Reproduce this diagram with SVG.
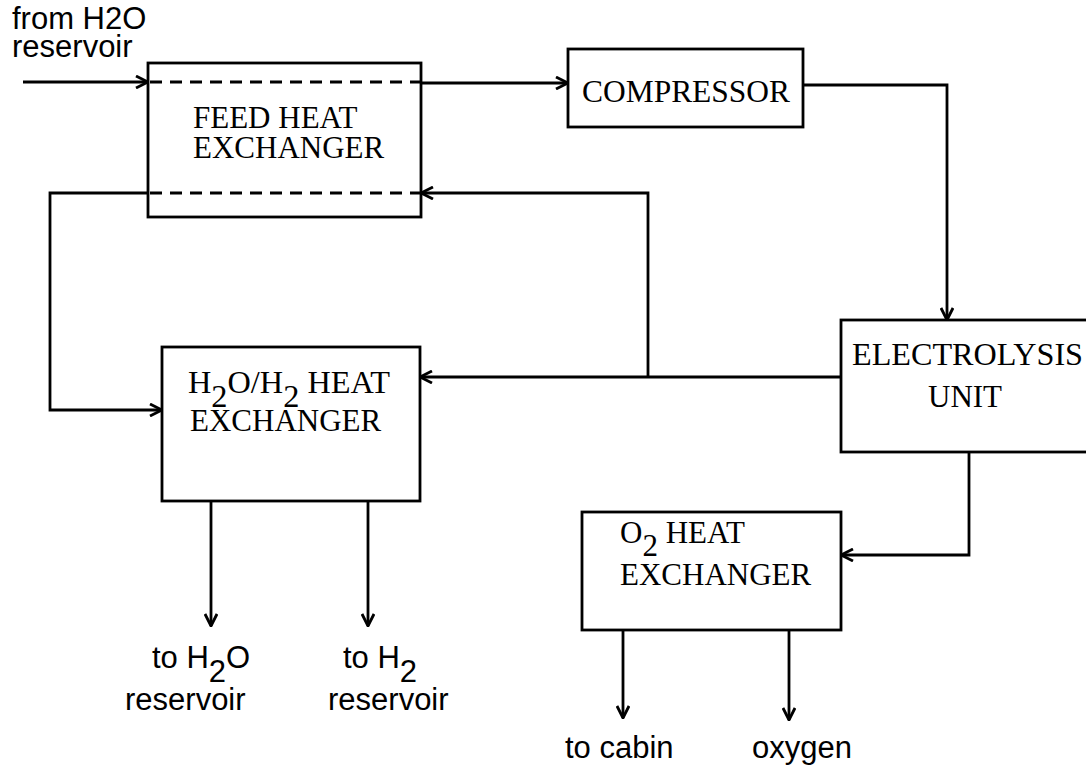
<svg xmlns="http://www.w3.org/2000/svg" width="1086" height="770" viewBox="0 0 1086 770">
<style>
.box{fill:#fff;stroke:#000;stroke-width:2.8}
.ln{fill:none;stroke:#000;stroke-width:2.8}
.dash{fill:none;stroke:#000;stroke-width:2.8;stroke-dasharray:12 8}
.arr{marker-end:url(#ah)}
.serif{font-family:"Liberation Serif","Times New Roman",serif;font-size:31px;fill:#000}
.sans{font-family:"Liberation Sans",Arial,sans-serif;font-size:31px;fill:#000}
</style>
<defs>
<marker id="ah" viewBox="0 0 14 14" refX="13" refY="7" markerWidth="14" markerHeight="14" markerUnits="userSpaceOnUse" orient="auto">
<path d="M1,1 L13,7 L1,13" fill="none" stroke="#000" stroke-width="2.8"/>
</marker>
</defs>
<rect width="1086" height="770" fill="#fff"/>

<g id="connectors">
<path class="ln arr" d="M23,82 H148"/>
<path class="ln arr" d="M421,83 H568"/>
<path class="ln arr" d="M803,85 H947 V320"/>
<path class="ln arr" d="M841,377 H420"/>
<path class="ln arr" d="M648,377 V193 H421"/>
<path class="ln arr" d="M148,193 H50 V410 H162"/>
<path class="ln arr" d="M969,452 V555 H841"/>
<path class="ln arr" d="M211,501 V626"/>
<path class="ln arr" d="M368,501 V626"/>
<path class="ln arr" d="M623,630 V718"/>
<path class="ln arr" d="M789,630 V720"/>
</g>

<g id="feed-hx">
<rect class="box" x="148" y="63" width="273" height="154"/>
<path class="dash" d="M150,82 H421"/>
<path class="dash" d="M150,193 H421"/>
<text class="serif" x="193" y="128">FEED HEAT</text>
<text class="serif" x="193" y="158">EXCHANGER</text>
</g>

<g id="compressor">
<rect class="box" x="568" y="49" width="235" height="78"/>
<text class="serif" x="582" y="102" textLength="208" lengthAdjust="spacingAndGlyphs">COMPRESSOR</text>
</g>

<g id="h2o-h2-hx">
<rect class="box" x="162" y="347" width="258" height="154"/>
<text class="serif" x="188" y="393" textLength="202" lengthAdjust="spacingAndGlyphs">H<tspan dy="14">2</tspan><tspan dy="-14">O/H</tspan><tspan dy="14">2</tspan><tspan dy="-14"> HEAT</tspan></text>
<text class="serif" x="190" y="431">EXCHANGER</text>
</g>

<g id="electrolysis">
<rect class="box" x="841" y="320" width="260" height="132"/>
<text class="serif" x="852" y="365" textLength="231" lengthAdjust="spacingAndGlyphs">ELECTROLYSIS</text>
<text class="serif" x="928" y="407">UNIT</text>
</g>

<g id="o2-hx">
<rect class="box" x="582" y="512" width="259" height="118"/>
<text class="serif" x="620" y="543">O<tspan dy="13">2</tspan><tspan dy="-13"> HEAT</tspan></text>
<text class="serif" x="620" y="585">EXCHANGER</text>
</g>

<g id="labels">
<text class="sans" x="12" y="29">from H2O</text>
<text class="sans" x="12" y="57">reservoir</text>
<text class="sans" x="152" y="668">to H<tspan dy="14">2</tspan><tspan dy="-14">O</tspan></text>
<text class="sans" x="125" y="710">reservoir</text>
<text class="sans" x="343" y="668">to H<tspan dy="14">2</tspan></text>
<text class="sans" x="328" y="710">reservoir</text>
<text class="sans" x="565" y="758">to cabin</text>
<text class="sans" x="752" y="758">oxygen</text>
</g>
</svg>
